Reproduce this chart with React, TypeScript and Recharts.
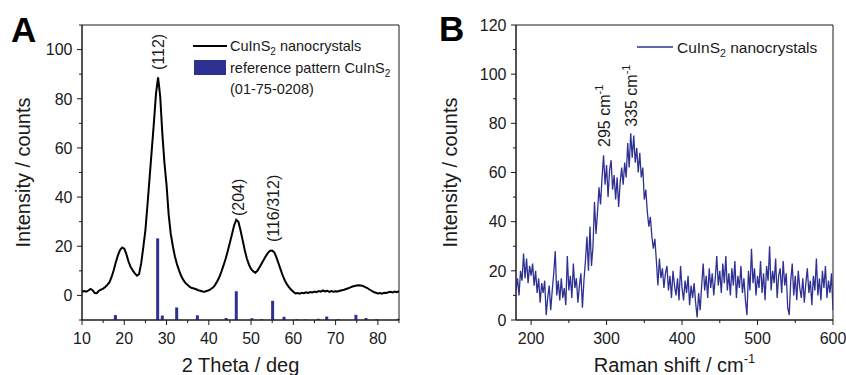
import React from 'react';
import {
  ComposedChart,
  Line,
  Scatter,
  ErrorBar,
  XAxis,
  YAxis,
  ReferenceArea,
  ReferenceDot,
  Legend,
} from 'recharts';

const FONT = '"Liberation Sans", Arial, Helvetica, sans-serif';
const BLUE = '#2E3192';
const INK = '#1a1a1a';

// ---------- Panel A: XRD ----------
const xrdStart = 10;
const xrdStep = 0.5;
const xrdIntensity = [
  1.5, 1.8, 1.5, 2.0, 2.6, 2.1, 1.0, 0.9, 1.9, 2.4,
  2.8, 3.4, 4.3, 5.4, 7.5, 10.2, 13.5, 16.3, 18.5, 19.5,
  19.0, 16.8, 13.8, 11.6, 10.2, 9.0, 8.0, 8.6, 13.0, 19.5,
  26.5, 37, 48, 59, 70, 82, 88.7, 81, 66, 54,
  45, 33, 25, 20, 15.7, 12.5, 10, 7.8, 6.2, 5.0,
  4.2, 3.5, 3.0, 2.8, 2.5, 2.1, 1.9, 1.6, 1.5, 1.8,
  2.1, 2.6, 3.2, 4.3, 5.8, 7.5, 9.8, 12.3, 15.0, 18.2,
  21.5, 25.0, 28.5, 30.8, 30.0, 26.5, 22.5, 18.5, 15.0, 12.5,
  10.8, 9.8, 9.2, 10.0, 11.5, 13.0, 14.5, 16.0, 17.3, 18.2,
  18.3, 17.5, 15.5, 13.0, 10.5, 8.0, 6.0, 4.5, 3.3, 2.3,
  1.5, 0.8, 1.0, 0.7, 1.1, 0.9, 1.3, 1.0, 1.4, 1.2,
  1.6, 1.3, 1.8, 1.5, 2.0, 1.6, 1.9, 1.4, 1.8, 1.5,
  1.7, 1.6, 1.9, 2.1, 2.3, 2.6, 2.9, 3.3, 3.6, 3.8,
  4.0, 4.1, 4.0, 3.8, 3.4, 3.0, 2.4, 1.9, 1.4, 1.1,
  0.8, 1.0, 0.7, 1.1, 1.0, 1.3, 1.5, 1.2, 1.6, 1.3,
  1.7,
];
const refPeakPos = [17.9, 27.9, 29.0, 32.4, 37.3, 44.1, 46.5, 50.2, 52.5, 55.1, 57.8, 60.8, 62.8, 65.9, 67.9, 70.6, 74.8, 77.2, 79.7, 84.8];
const refPeakTop = [-8.0, 23.2, -8.2, -4.9, -8.1, -9.2, 1.7, -9.3, -9.7, -2.2, -8.7, -9.7, -9.8, -9.5, -8.6, -9.7, -7.9, -9.2, -9.7, -9.5];
const xrdDomainX = [10, 85];
const xrdDomainY = [-10, 110];
const xrdXTicks = [10, 15, 20, 25, 30, 35, 40, 45, 50, 55, 60, 65, 70, 75, 80, 85];
const xrdXMajor = [10, 20, 30, 40, 50, 60, 70, 80];
const xrdYTicks = [-10, 0, 10, 20, 30, 40, 50, 60, 70, 80, 90, 100, 110];
const xrdYMajor = [0, 20, 40, 60, 80, 100];
const hklText = ['(112)', '(204)', '(116/312)'];
const hklX = [28, 47, 55.3];
const hklY = [91.7, 32.3, 21.7];

// ---------- Panel B: Raman ----------
const ramanStart = 180;
const ramanStep = 2;
const ramanIntensity = [
  12, 17, 10, 20, 16, 27, 17, 25, 15, 22, 18,
  23, 14, 20, 11, 17, 7, 15, 11, 16, 2,
  9, 14, 4, 12, 19, 28, 10, 16, 8, 17,
  9, 13, 6, 26, 12, 18, 9, 23, 13, 17,
  7, 14, 19, 5, 16, 24, 34, 20, 38, 22,
  30, 48, 35, 44, 54, 47, 58, 67, 55, 63,
  50, 61, 65, 53, 59, 49, 58, 46, 56, 62,
  55, 64, 58, 72, 62, 76, 66, 75, 64, 70,
  60, 68, 58, 62, 49, 53, 44, 38, 42, 34,
  29, 33, 24, 14, 25, 17, 21, 13, 19, 22,
  12, 18, 9, 20, 14, 10, 17, 8, 22, 13,
  8, 16, 11, 18, 6, 14, 9, 15, 7, 1,
  11, 4, 14, 23, 12, 18, 9, 21, 13, 19,
  10, 17, 26, 14, 20, 11, 23, 15, 26, 12,
  19, 10, 21, 14, 24, 9, 18, 13, 22, 11,
  17, 8, 2, 20, 12, 29, 15, 21, 10, 18,
  13, 24, 11, 19, 8, 22, 16, 30, 12, 20,
  15, 25, 9, 18, 21, 11, 24, 14, 19, 5,
  2, 16, 23, 10, 18, 8, 20, 13, 9, 17,
  7, 15, 21, 11, 16, 6, 18, 12, 25, 10,
  17, 8, 20, 13, 22, 9, 16, 11, 19, 4,
];
const ramanDomainX = [180, 600];
const ramanDomainY = [0, 120];
const ramanXTicks = [200, 250, 300, 350, 400, 450, 500, 550, 600];
const ramanXMajor = [200, 300, 400, 500, 600];
const ramanYTicks = [0, 10, 20, 30, 40, 50, 60, 70, 80, 90, 100, 110, 120];
const ramanYMajor = [0, 20, 40, 60, 80, 100, 120];
const modeText = ['295 cm', '335 cm'];
const modeX = [297.6, 333];
const modeY = [70.4, 78.6];

// ---------- built tables ----------
const xrdData = xrdIntensity.map((y, i) => ({ x: xrdStart + i * xrdStep, y }));
const refData = refPeakPos.map((x, i) => ({
  x,
  y: refPeakTop[i],
  err: [refPeakTop[i] - xrdDomainY[0], 0],
}));
const ramanData = ramanIntensity.map((y, i) => ({ x: ramanStart + i * ramanStep, y }));

// ---------- helpers ----------
const makeXTick = (majors: number[]) => (props: any) => {
  const { x, y, payload } = props;
  const major = majors.includes(payload.value);
  return (
    <g>
      <line x1={x} x2={x} y1={y} y2={y + (major ? 5 : 3)} stroke={INK} strokeWidth={1} />
      {major && (
        <text x={x} y={y + 23.5} textAnchor="middle" fontSize={16} fill={INK} fontFamily={FONT}>
          {payload.value}
        </text>
      )}
    </g>
  );
};

const makeYTick = (majors: number[]) => (props: any) => {
  const { x, y, payload } = props;
  const major = majors.includes(payload.value);
  return (
    <g>
      <line x1={x - (major ? 5 : 3)} x2={x} y1={y} y2={y} stroke={INK} strokeWidth={1} />
      {major && (
        <text x={x - 9.5} y={y} dy="0.36em" textAnchor="end" fontSize={16} fill={INK} fontFamily={FONT}>
          {payload.value}
        </text>
      )}
    </g>
  );
};

const yTitle = (offset: number) => (props: any) => {
  const vb = props.viewBox || {};
  const cx = vb.x + offset;
  const cy = vb.y + vb.height / 2;
  return (
    <text
      x={cx}
      y={cy}
      transform={`rotate(-90 ${cx} ${cy})`}
      textAnchor="middle"
      fontSize={20}
      fill={INK}
      fontFamily={FONT}
    >
      Intensity / counts
    </text>
  );
};

const xTitleA = (props: any) => {
  const vb = props.viewBox || {};
  return (
    <text x={vb.x + vb.width / 2} y={vb.y + 52} textAnchor="middle" fontSize={20} fill={INK} fontFamily={FONT}>
      2 Theta / deg
    </text>
  );
};

const xTitleB = (props: any) => {
  const vb = props.viewBox || {};
  return (
    <text x={vb.x + vb.width / 2} y={vb.y + 52} textAnchor="middle" fontSize={20} fill={INK} fontFamily={FONT}>
      Raman shift / cm
      <tspan fontSize={13} dy={-9}>-1</tspan>
    </text>
  );
};

const rotatedLabel = (text: string, sup?: string) => (props: any) => {
  const { cx, cy } = props;
  return (
    <text
      x={cx}
      y={cy}
      dy={5.5}
      transform={`rotate(-90 ${cx} ${cy})`}
      textAnchor="start"
      fontSize={16}
      fill={INK}
      fontFamily={FONT}
    >
      {text}
      {sup && (
        <tspan fontSize={11} dy={-7}>
          {sup}
        </tspan>
      )}
    </text>
  );
};

const LegendA = () => (
  <svg width={210} height={70} style={{ overflow: 'visible', display: 'block' }}>
    <line x1={0} x2={34} y1={11} y2={11} stroke="#000" strokeWidth={2} />
    <text x={37} y={16} fontSize={14.5} fill={INK} fontFamily={FONT}>
      CuInS
      <tspan fontSize={10} dy={4}>2</tspan>
      <tspan dy={-4}> nanocrystals</tspan>
    </text>
    <rect x={1} y={25} width={32} height={15} fill={BLUE} />
    <text x={37} y={38} fontSize={14.5} fill={INK} fontFamily={FONT}>
      reference pattern CuInS
      <tspan fontSize={10} dy={4}>2</tspan>
    </text>
    <text x={37} y={59} fontSize={14.5} fill={INK} fontFamily={FONT}>
      (01-75-0208)
    </text>
  </svg>
);

const LegendB = () => (
  <svg width={200} height={30} style={{ overflow: 'visible', display: 'block' }}>
    <line x1={0} x2={36} y1={12} y2={12} stroke={BLUE} strokeWidth={1.5} />
    <text x={40} y={18} fontSize={15.5} fill={INK} fontFamily={FONT}>
      CuInS
      <tspan fontSize={10.5} dy={4}>2</tspan>
      <tspan dy={-4}> nanocrystals</tspan>
    </text>
  </svg>
);

const PanelA = () => (
  <ComposedChart width={420} height={375} margin={{ top: 25, right: 21, bottom: 5, left: 22 }}>
    <XAxis
      type="number"
      dataKey="x"
      domain={xrdDomainX}
      allowDataOverflow
      ticks={xrdXTicks}
      interval={0}
      tickSize={0}
      tickMargin={0}
      tickLine={false}
      tick={makeXTick(xrdXMajor)}
      axisLine={{ stroke: INK }}
      height={50}
      label={xTitleA}
    />
    <YAxis
      type="number"
      dataKey="y"
      domain={xrdDomainY}
      allowDataOverflow
      ticks={xrdYTicks}
      interval={0}
      tickSize={0}
      tickMargin={0}
      tickLine={false}
      tick={makeYTick(xrdYMajor)}
      axisLine={{ stroke: INK }}
      width={60}
      label={yTitle(7.5)}
    />
    <ReferenceArea
      x1={xrdDomainX[0]}
      x2={xrdDomainX[1]}
      y1={xrdDomainY[0]}
      y2={xrdDomainY[1]}
      fill="none"
      fillOpacity={0}
      stroke={INK}
      strokeWidth={1}
      ifOverflow="visible"
    />
    <Scatter data={refData} dataKey="y" shape={() => <g />} isAnimationActive={false} legendType="none">
      <ErrorBar dataKey="err" direction="y" width={0} stroke={BLUE} strokeWidth={3} isAnimationActive={false} />
    </Scatter>
    <Line
      data={xrdData}
      dataKey="y"
      type="linear"
      stroke="#000"
      strokeWidth={2}
      dot={false}
      activeDot={false}
      isAnimationActive={false}
    />
    {hklText.map((t, i) => (
      <ReferenceDot key={t} x={hklX[i]} y={hklY[i]} r={0} shape={rotatedLabel(t)} ifOverflow="visible" />
    ))}
    <Legend
      content={LegendA}
      layout="horizontal"
      verticalAlign="middle"
      align="center"
      wrapperStyle={{ left: 193, top: 35, width: 210, height: 70 }}
    />
  </ComposedChart>
);

const PanelB = () => (
  <ComposedChart width={426} height={375} margin={{ top: 25, right: 13, bottom: 5, left: 36 }}>
    <XAxis
      type="number"
      dataKey="x"
      domain={ramanDomainX}
      allowDataOverflow
      ticks={ramanXTicks}
      interval={0}
      tickSize={0}
      tickMargin={0}
      tickLine={false}
      tick={makeXTick(ramanXMajor)}
      axisLine={{ stroke: INK }}
      height={50}
      label={xTitleB}
    />
    <YAxis
      type="number"
      dataKey="y"
      domain={ramanDomainY}
      allowDataOverflow
      ticks={ramanYTicks}
      interval={0}
      tickSize={0}
      tickMargin={0}
      tickLine={false}
      tick={makeYTick(ramanYMajor)}
      axisLine={{ stroke: INK }}
      width={60}
      label={yTitle(0.5)}
    />
    <ReferenceArea
      x1={ramanDomainX[0]}
      x2={ramanDomainX[1]}
      y1={ramanDomainY[0]}
      y2={ramanDomainY[1]}
      fill="none"
      fillOpacity={0}
      stroke={INK}
      strokeWidth={1}
      ifOverflow="visible"
    />
    <Line
      data={ramanData}
      dataKey="y"
      type="linear"
      stroke={BLUE}
      strokeWidth={1.3}
      dot={false}
      activeDot={false}
      isAnimationActive={false}
    />
    {modeText.map((t, i) => (
      <ReferenceDot key={t} x={modeX[i]} y={modeY[i]} r={0} shape={rotatedLabel(t, '-1')} ifOverflow="visible" />
    ))}
    <Legend
      content={LegendB}
      layout="horizontal"
      verticalAlign="middle"
      align="center"
      wrapperStyle={{ left: 217, top: 35, width: 200, height: 30 }}
    />
  </ComposedChart>
);

export default function App() {
  return (
    <div style={{ position: 'absolute', left: 0, top: 0, width: 846, height: 375, background: '#fff', fontFamily: FONT }}>
      <div style={{ position: 'absolute', left: 0, top: 0 }}>
        <PanelA />
      </div>
      <div style={{ position: 'absolute', left: 420, top: 0 }}>
        <PanelB />
      </div>
      <svg width={846} height={375} style={{ position: 'absolute', left: 0, top: 0, pointerEvents: 'none' }}>
        <text x={11} y={42} fontSize={35} fontWeight="bold" fill="#000" fontFamily={FONT}>
          A
        </text>
        <text x={439} y={41} fontSize={35} fontWeight="bold" fill="#000" fontFamily={FONT}>
          B
        </text>
      </svg>
    </div>
  );
}
